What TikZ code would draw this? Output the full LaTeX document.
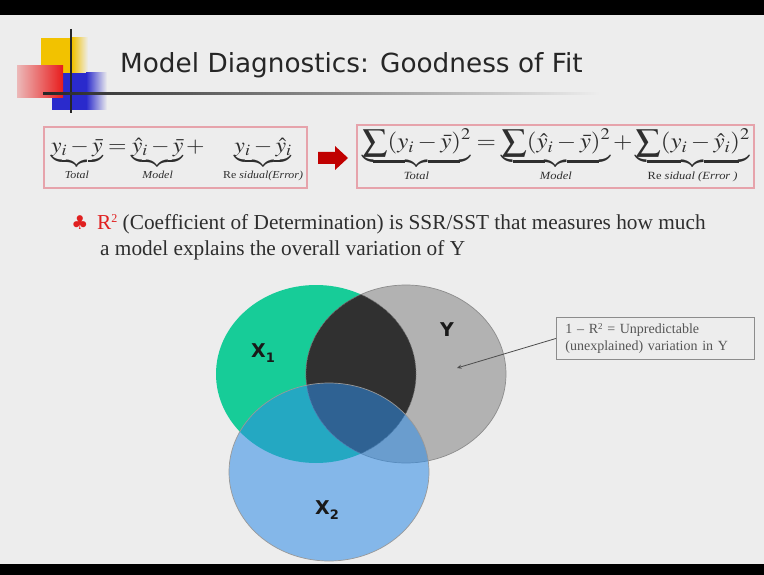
\documentclass[tikz,border=0pt]{standalone}
\usepackage{mathptmx}
\usepackage{graphicx}
\usepackage{fontspec}
\setmainfont{Liberation Serif}
\newfontfamily\sansfont{DejaVu Sans}
\usetikzlibrary{arrows.meta}

\definecolor{slidebg}{HTML}{EDEDED}
\definecolor{boxpink}{HTML}{E6A3AB}
\definecolor{arrowred}{HTML}{C00000}
\definecolor{clubred}{HTML}{E02020}
\definecolor{textgray}{HTML}{2E2E2E}
\definecolor{notegray}{HTML}{555555}
\definecolor{xonegreen}{HTML}{17CC98}
\definecolor{ygray}{HTML}{B2B2B2}
\definecolor{overlapdark}{HTML}{303030}
\definecolor{xtwoblue}{HTML}{2F8CE6}
\definecolor{logoyellow}{HTML}{F2C200}
\definecolor{logored}{HTML}{E81C1C}
\definecolor{logoblue}{HTML}{2A2ACC}

% small italic label under a brace
\newcommand\brlabel[1]{\mbox{\fontsize{10}{10}\selectfont\itshape #1}}
% small raised square
\newcommand\sqr[1]{\raisebox{0.75ex}{\fontsize{#1}{#1}\selectfont 2}}

\tikzset{
  eqbox/.style={draw=boxpink, line width=1.2pt, fill=none, inner sep=0pt},
  bullettext/.style={anchor=base west, inner sep=0pt, text=textgray,
    font=\fontsize{21.3}{24}\selectfont},
  notebox/.style={draw=black!45, line width=0.9pt, inner ysep=3pt, inner xsep=9pt,
    text width=180pt, minimum height=42pt, align=left, text=notegray,
    font=\fontsize{14}{17}\selectfont},
  pointer/.style={draw=black!70, line width=0.8pt, -{Stealth[length=4.5pt,width=4pt]}},
  setlabel/.style={inner sep=0pt, text=black!90, font=\sansfont\bfseries\fontsize{19}{20}\selectfont},
  eqtext/.style={inner sep=0pt, text=textgray, font=\fontsize{20}{24}\selectfont},
}

\begin{document}
\begin{tikzpicture}[x=1pt,y=-1pt]
% slide background and letterbox bars
\useasboundingbox (0,0) rectangle (764,575);
\fill[slidebg] (0,0) rectangle (764,575);
\fill[black] (0,0) rectangle (764,15);
\fill[black] (0,564) rectangle (764,575);

% logo squares
\fill[logoyellow] (41,38) rectangle (72,73);
\shade[left color=logoyellow, right color=slidebg] (72,38) rectangle (88,73);
\fill[logoblue] (52,73) rectangle (86,110);
\shade[left color=logoblue, right color=slidebg] (86,73) rectangle (107,110);
\shade[left color=logored!25!slidebg, right color=logored] (17,66) rectangle (63,98);
\draw[line width=1.6pt, black!85] (71,29) -- (71,113);
\shade[left color=black!85, middle color=black!45, right color=slidebg] (43,92.2) rectangle (600,94.4);

% title
\node[anchor=base west, inner sep=0pt, text=black!85,
      font=\sansfont\fontsize{26.3}{30}\selectfont] (title) at (120,73)
      {Model Diagnostics: Goodness of Fit};

% equation boxes
\node[eqbox, minimum width=263pt, minimum height=61pt] (leftbox) at (175.5,157.5) {};
\node[eqbox, minimum width=397pt, minimum height=63pt] (rightbox) at (555.5,156.5) {};
\node[eqtext] (lefteq) at (177,160.5)
  {\resizebox*{252pt}{45pt}{$\underbrace{y_i-\bar{y}}_{\brlabel{Total}}=\underbrace{\hat{y}_i-\bar{y}}_{\brlabel{Model}}+\;\;\;\underbrace{y_i-\hat{y}_i}_{\brlabel{\upshape Re \itshape sidual(Error)}}$}};
\node[eqtext] (righteq) at (556,156.5)
  {\resizebox*{388pt}{55pt}{$\displaystyle\underbrace{\sum(y_i-\bar{y})^2}_{\brlabel{Total}}=\underbrace{\sum(\hat{y}_i-\bar{y})^2}_{\brlabel{Model}}+\underbrace{\sum(y_i-\hat{y}_i)^2}_{\brlabel{\upshape Re \itshape sidual (Error )}}$}};

% block arrow between the two boxes
\fill[arrowred] (318,152) -- (335,152) -- (335,146) -- (348,158) -- (335,170) -- (335,164) -- (318,164) -- cycle;

% bullet point
\node[inner sep=0pt, text=clubred, font=\sansfont\fontsize{19}{19}\selectfont] (club) at (80,223) {♣};
\node[bullettext] (bulletone) at (97,230)
  {{\color{clubred}R\sqr{12}} (Coefficient of Determination) is SSR/SST that measures how much};
\node[bullettext] (bullettwo) at (100,256) {a model explains the overall variation of Y};

% Venn diagram
\fill[xonegreen] (316,374) ellipse [x radius=100, y radius=89];
\filldraw[fill=ygray, draw=black!45, line width=0.7pt] (406,374) ellipse [x radius=100, y radius=89];
\begin{scope}
  \clip (316,374) ellipse [x radius=100, y radius=89];
  \fill[overlapdark] (406,374) ellipse [x radius=100, y radius=89];
  \draw[black!60, densely dotted, line width=0.8pt] (406,374) ellipse [x radius=100, y radius=89];
\end{scope}
\begin{scope}
  \clip (406,374) ellipse [x radius=100, y radius=89];
  \draw[black!60, densely dotted, line width=0.8pt] (316,374) ellipse [x radius=100, y radius=89];
\end{scope}
\filldraw[fill=xtwoblue, fill opacity=0.55, draw=black!40, line width=0.7pt] (329,472) ellipse [x radius=100, y radius=89];

\node[setlabel] (xone) at (263,353) {X\raisebox{-0.45ex}{\fontsize{13}{13}\selectfont 1}};
\node[setlabel] (ylab) at (447,330) {Y};
\node[setlabel] (xtwo) at (327,510) {X\raisebox{-0.45ex}{\fontsize{13}{13}\selectfont 2}};

% note on the unexplained part of Y
\node[notebox, anchor=north west] (note) at (556,317)
  {1 – R\sqr{9} = Unpredictable\\(unexplained) variation in Y};
\coordinate (ypoint) at (457,368);
\draw[pointer] (note.west) -- (ypoint);
\end{tikzpicture}
\end{document}
